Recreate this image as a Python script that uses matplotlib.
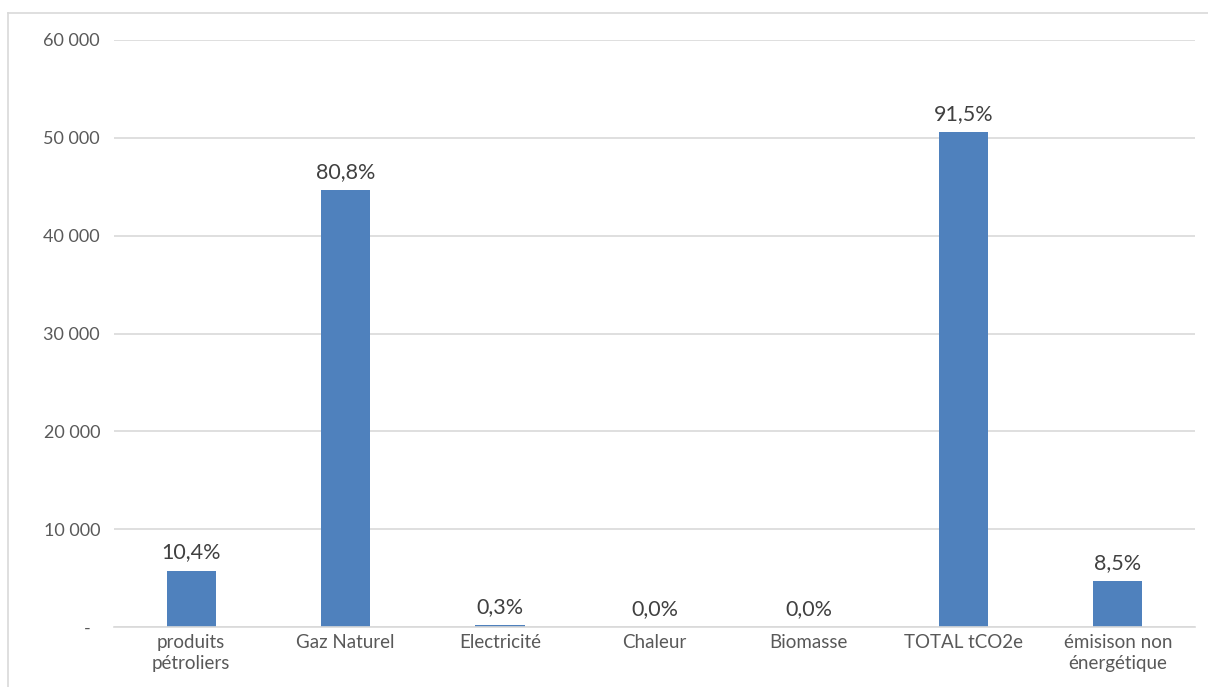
import matplotlib
matplotlib.use("Agg")
import matplotlib.pyplot as plt
from matplotlib.lines import Line2D
from matplotlib.ticker import FixedLocator, FuncFormatter

categories = ["produits\npétroliers", "Gaz Naturel", "Electricité", "Chaleur",
              "Biomasse", "TOTAL tCO2e", "émisison non\nénergétique"]
values = [5750, 44650, 170, 0, 0, 50560, 4700]
labels = ["10,4%", "80,8%", "0,3%", "0,0%", "0,0%", "91,5%", "8,5%"]
yticks = [0, 10000, 20000, 30000, 40000, 50000, 60000]

plt.rcParams['font.family'] = ['Lato', 'DejaVu Sans']

fig = plt.figure(figsize=(12.08, 6.87), dpi=100)
ax = fig.add_axes([114/1208, 1-627/687, (1195-114)/1208, (627-40)/687])

x = list(range(len(categories)))
ax.bar(x, values, width=0.32, color="#4F81BD", zorder=2)
for xi, v, lab in zip(x, values, labels):
    ax.annotate(lab, (xi, v), xytext=(0, 6), textcoords="offset points",
                ha="center", va="bottom", fontsize=15.5, color="#404040")

ax.set_xlim(-0.5, len(categories) - 0.5)
ax.set_ylim(0, 60000)
ax.yaxis.set_major_locator(FixedLocator(yticks))
ax.yaxis.set_major_formatter(FuncFormatter(
    lambda v, p: "-  " if v == 0 else f"{int(v):,}".replace(",", " ")))
ax.set_xticks(x)
ax.set_xticklabels(categories, fontsize=13.5, color="#595959", linespacing=1.3)
ax.tick_params(axis="y", labelsize=13, labelcolor="#595959", length=0, pad=10)
ax.tick_params(axis="x", length=0, pad=5)
ax.grid(axis="y", color="#D9D9D9", linewidth=1.2, zorder=0)
for s in ["top", "right", "left"]:
    ax.spines[s].set_visible(False)
ax.spines["bottom"].set_color("#D9D9D9")
ax.spines["bottom"].set_linewidth(1.2)
ax.spines["bottom"].set_zorder(3)

# chart area border (left and top)
fig.add_artist(Line2D([8/1208, 8/1208], [0, 1-13/687], transform=fig.transFigure,
                      color="#D9D9D9", linewidth=1.2))
fig.add_artist(Line2D([8/1208, 1], [1-13/687, 1-13/687], transform=fig.transFigure,
                      color="#D9D9D9", linewidth=1.2))

fig.savefig("out.png", dpi=100)
